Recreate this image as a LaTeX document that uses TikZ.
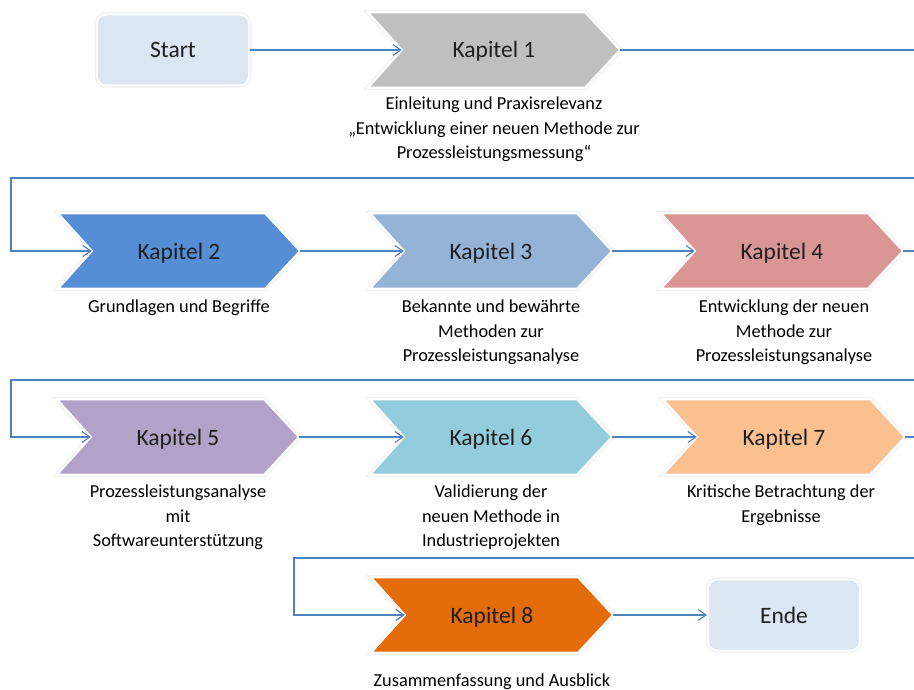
\documentclass[tikz,border=0pt]{standalone}
\usepackage{fontspec}
\setmainfont{Carlito}
\usetikzlibrary{arrows.meta,backgrounds}

\definecolor{flow}{RGB}{79,129,189}
\definecolor{termfill}{RGB}{220,230,242}
\definecolor{kgray}{RGB}{191,191,191}
\definecolor{kblue}{RGB}{85,142,213}
\definecolor{ksteel}{RGB}{149,179,215}
\definecolor{krose}{RGB}{217,150,148}
\definecolor{klilac}{RGB}{179,162,199}
\definecolor{kaqua}{RGB}{147,205,221}
\definecolor{kpeach}{RGB}{250,192,144}
\definecolor{korange}{RGB}{228,108,10}

\tikzset{
  chevbox/.style={rectangle, draw=none, inner sep=0pt,
    minimum width=#1, minimum height=75pt,
    text height=18pt, text depth=2pt,
    font=\fontsize{23.5}{28}\selectfont, text=black!88},
  chevbox/.default=242pt,
  termbox/.style={rectangle, rounded corners=9pt, fill=termfill,
    draw=white, line width=2pt, inner sep=0pt,
    minimum width=152pt, minimum height=71pt,
    text height=18pt, text depth=2pt,
    font=\fontsize{23.5}{28}\selectfont, text=black!88,
    preaction={draw=black!6, line width=4.5pt}},
  caption/.style={align=center, anchor=north, inner sep=0pt,
    font=\fontsize{18.3}{24.5}\selectfont, text=black},
  flowline/.style={draw=flow, line width=1.2pt,
    -{Straight Barb[length=8pt,width=11pt,line width=1.1pt]}},
}

% chevron outline drawn around a named box: notch on the left, point on the right
\newcommand{\chevron}[2]{%
  \path[draw=black!6, line width=4.5pt, line join=miter]
    (#1.north west) -- ([xshift=-35pt]#1.north east) -- (#1.east)
    -- ([xshift=-35pt]#1.south east) -- (#1.south west)
    -- ([xshift=34pt]#1.west) -- cycle;
  \path[fill=#2, draw=white, line width=2.2pt, line join=miter]
    (#1.north west) -- ([xshift=-35pt]#1.north east) -- (#1.east)
    -- ([xshift=-35pt]#1.south east) -- (#1.south west)
    -- ([xshift=34pt]#1.west) -- cycle;
  \coordinate (#1in) at ([xshift=34pt]#1.west);
}

\begin{document}
\begin{tikzpicture}[x=1pt, y=-1pt]
  \useasboundingbox (0,0) rectangle (914,690);

  % terminals
  \node[termbox] (start) at (173,50) {Start};
  \node[termbox] (ende) at (784,615) {Ende};

  % chapter boxes
  \node[chevbox=252pt] (k1) at (494,50) {Kapitel 1};
  \node[chevbox] (k2) at (179,251) {Kapitel 2};
  \node[chevbox] (k3) at (491,251) {Kapitel 3};
  \node[chevbox] (k4) at (782,251) {Kapitel 4};
  \node[chevbox] (k5) at (178,437) {Kapitel 5};
  \node[chevbox] (k6) at (491,437) {Kapitel 6};
  \node[chevbox] (k7) at (784,437) {Kapitel 7};
  \node[chevbox] (k8) at (492,615) {Kapitel 8};

  \begin{scope}[on background layer]
    \chevron{k1}{kgray}
    \chevron{k2}{kblue}
    \chevron{k3}{ksteel}
    \chevron{k4}{krose}
    \chevron{k5}{klilac}
    \chevron{k6}{kaqua}
    \chevron{k7}{kpeach}
    \chevron{k8}{korange}
  \end{scope}

  % captions
  \node[caption] (c1) at (494,97) {Einleitung und Praxisrelevanz\\
    „Entwicklung einer neuen Methode zur\\ Prozessleistungsmessung“};
  \node[caption] (c2) at (179,300) {Grundlagen und Begriffe};
  \node[caption] (c3) at (491,300) {Bekannte und bewährte\\ Methoden zur\\
    Prozessleistungsanalyse};
  \node[caption] (c4) at (784,300) {Entwicklung der neuen\\ Methode zur\\
    Prozessleistungsanalyse};
  \node[caption] (c5) at (178,485) {Prozessleistungsanalyse\\ mit\\
    Softwareunterstützung};
  \node[caption] (c6) at (491,485) {Validierung der\\ neuen Methode in\\
    Industrieprojekten};
  \node[caption] (c7) at (781,485) {Kritische Betrachtung der\\ Ergebnisse};
  \node[caption] (c8) at (492,674) {Zusammenfassung und Ausblick};

  % flow connectors
  \draw[flowline] (start.east) -- (k1in);
  \draw[flowline] (k1.east) -- ++(300,0) |- (11,178) |- (k2in);
  \draw[flowline] (k2.east) -- (k3in);
  \draw[flowline] (k3.east) -- (k4in);
  \draw[flowline] (k4.east) -- ++(20,0) |- (11,380) |- (k5in);
  \draw[flowline] (k5.east) -- (k6in);
  \draw[flowline] (k6.east) -- (k7in);
  \draw[flowline] (k7.east) -- ++(20,0) |- (294,558) |- (k8in);
  \draw[flowline] (k8.east) -- (ende.west);
\end{tikzpicture}
\end{document}
